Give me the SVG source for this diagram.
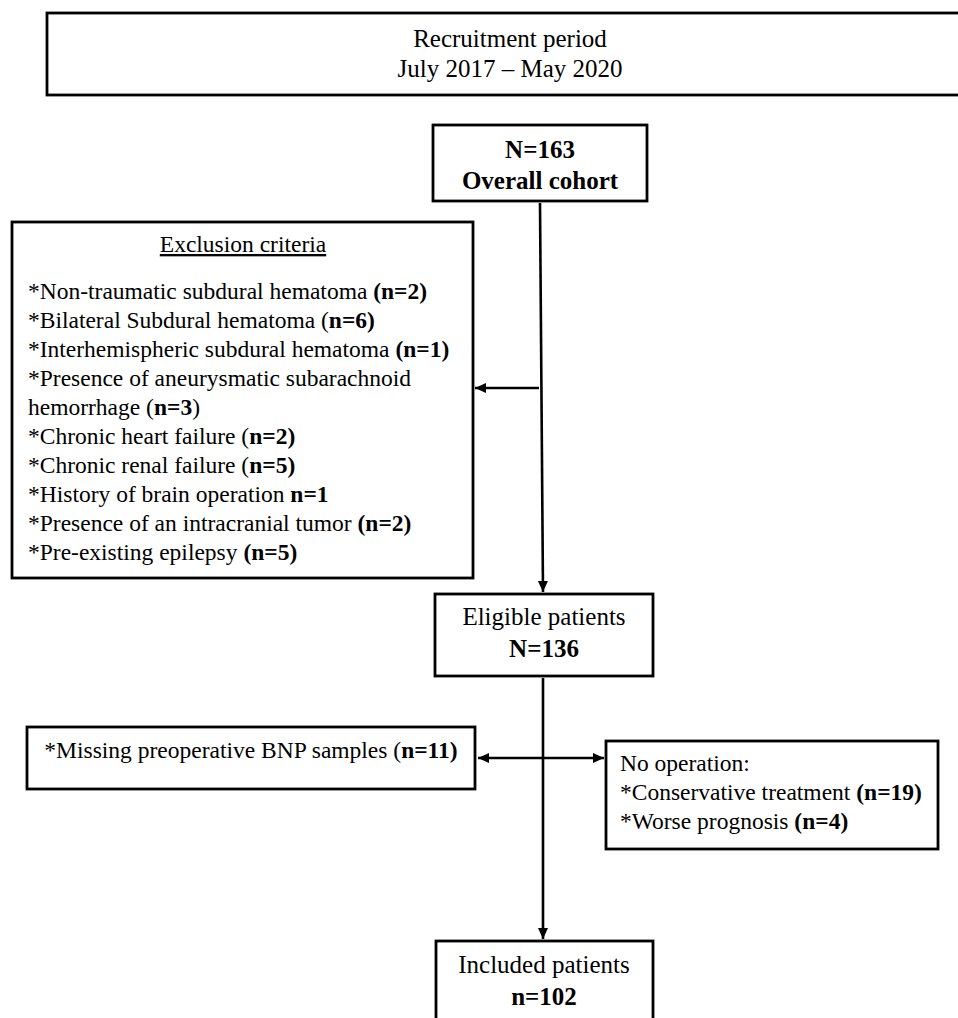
<svg xmlns="http://www.w3.org/2000/svg" width="958" height="1018" viewBox="0 0 958 1018">
<style>
  .box { fill: #ffffff; stroke: #000000; stroke-width: 2.8; }
  .t { font-family: "Liberation Serif", "Times New Roman", serif; fill: #000000; }
  .big { font-size: 25px; }
  .sm { font-size: 23.5px; }
  .b { font-weight: bold; }
  .mid { text-anchor: middle; }
  .conn { stroke: #000000; stroke-width: 2.6; fill: none; }
</style>
<defs>
  <marker id="ah" markerUnits="userSpaceOnUse" markerWidth="13" markerHeight="11" refX="11" refY="5" orient="auto-start-reverse">
    <path d="M0,0 L11,5 L0,10 z" fill="#000000"/>
  </marker>
</defs>
<rect width="958" height="1018" fill="#ffffff"/>

<g id="recruitment">
  <rect class="box" x="47" y="13" width="940" height="82"/>
  <text class="t big mid" x="510" y="47">Recruitment period</text>
  <text class="t big mid" x="510" y="77">July 2017 – May 2020</text>
</g>

<g id="overall">
  <rect class="box" x="433" y="125" width="214" height="76"/>
  <text class="t big b mid" x="540" y="158">N=163</text>
  <text class="t big b mid" x="540" y="189">Overall cohort</text>
</g>

<g id="exclusion">
  <rect class="box" x="12" y="222" width="461" height="356"/>
  <text class="t sm mid" x="243" y="252" text-decoration="underline">Exclusion criteria</text>
  <text class="t sm" x="28" y="299">*Non-traumatic subdural hematoma <tspan class="b">(n=2)</tspan></text>
  <text class="t sm" x="28" y="328">*Bilateral Subdural hematoma (<tspan class="b">n=6)</tspan></text>
  <text class="t sm" x="28" y="357">*Interhemispheric subdural hematoma <tspan class="b">(n=1)</tspan></text>
  <text class="t sm" x="28" y="386">*Presence of aneurysmatic subarachnoid</text>
  <text class="t sm" x="28" y="415">hemorrhage (<tspan class="b">n=3</tspan>)</text>
  <text class="t sm" x="28" y="444">*Chronic heart failure (<tspan class="b">n=2)</tspan></text>
  <text class="t sm" x="28" y="473">*Chronic renal failure (<tspan class="b">n=5)</tspan></text>
  <text class="t sm" x="28" y="502">*History of brain operation <tspan class="b">n=1</tspan></text>
  <text class="t sm" x="28" y="531">*Presence of an intracranial tumor <tspan class="b">(n=2)</tspan></text>
  <text class="t sm" x="28" y="560">*Pre-existing epilepsy <tspan class="b">(n=5)</tspan></text>
</g>

<g id="eligible">
  <rect class="box" x="435" y="594" width="218" height="82"/>
  <text class="t big mid" x="544" y="625">Eligible patients</text>
  <text class="t big b mid" x="544" y="657">N=136</text>
</g>

<g id="missing">
  <rect class="box" x="27" y="727" width="448" height="62"/>
  <text class="t sm mid" x="251" y="758">*Missing preoperative BNP samples (<tspan class="b">n=11)</tspan></text>
</g>

<g id="nooperation">
  <rect class="box" x="606" y="741" width="332" height="108"/>
  <text class="t sm" x="620" y="771">No operation:</text>
  <text class="t sm" x="620" y="800">*Conservative treatment <tspan class="b">(n=19)</tspan></text>
  <text class="t sm" x="620" y="829">*Worse prognosis <tspan class="b">(n=4)</tspan></text>
</g>

<g id="included">
  <rect class="box" x="436" y="941" width="217" height="100"/>
  <text class="t big mid" x="544" y="973">Included patients</text>
  <text class="t big b mid" x="544" y="1005">n=102</text>
</g>

<g id="connectors">
  <line class="conn" x1="540" y1="203" x2="543" y2="592" marker-end="url(#ah)"/>
  <line class="conn" x1="539" y1="388" x2="475" y2="388" marker-end="url(#ah)"/>
  <line class="conn" x1="543" y1="678" x2="543" y2="939" marker-end="url(#ah)"/>
  <line class="conn" x1="478" y1="758" x2="604" y2="758" marker-start="url(#ah)" marker-end="url(#ah)"/>
</g>
</svg>
